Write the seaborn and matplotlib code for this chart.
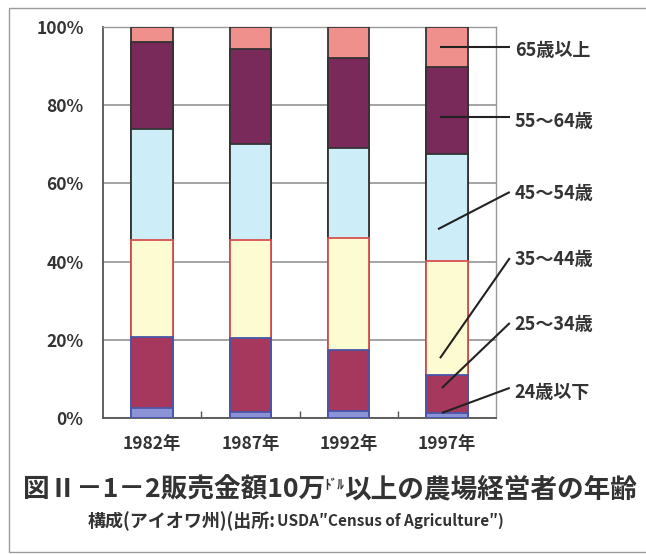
import numpy as np
import pandas as pd
import matplotlib
matplotlib.use("Agg")
import matplotlib.pyplot as plt
from matplotlib.patches import Rectangle
from matplotlib import font_manager
import seaborn as sns

# Iowa farm operators with sales of $100k+, share by age group (%)
years = ["1982年", "1987年", "1992年", "1997年"]
age_groups = ["24歳以下", "25～34歳", "35～44歳", "45～54歳", "55～64歳", "65歳以上"]
share_24_under = [2.5, 1.6, 1.8, 1.4]
share_25_34 = [18.3, 18.8, 15.6, 9.6]
share_35_44 = [24.7, 25.1, 28.7, 29.1]
share_45_54 = [28.5, 24.5, 23.0, 27.3]
share_55_64 = [22.2, 24.4, 22.9, 22.3]
share_65_over = [3.8, 5.6, 8.0, 10.3]
y_ticks = [0, 20, 40, 60, 80, 100]
y_tick_labels = ["0%", "20%", "40%", "60%", "80%", "100%"]

fill_colors = ["#8c92d6", "#a5385c", "#fdfbd2", "#cdedf9", "#79295a", "#f0908c"]
edge_colors = ["#4a55a8", "#4a55a8", "#d85050", "#333333", "#333333", "#333333"]

sns.set_theme(style="white")
plt.rcParams["font.family"] = ["Noto Sans CJK JP", "DejaVu Sans"]
TXT = "#333333"

shares = np.array([share_24_under, share_25_34, share_35_44,
                   share_45_54, share_55_64, share_65_over])
cum = np.cumsum(shares, axis=0)

fig = plt.figure(figsize=(6.46, 5.54), dpi=100)
ax = fig.add_axes([103 / 646, 1 - 418 / 554, 393 / 646, 391 / 554])

# stacked bars: draw cumulative totals from the top group down
for k in range(len(age_groups) - 1, -1, -1):
    df = pd.DataFrame({"year": years, "cum": cum[k]})
    sns.barplot(data=df, x="year", y="cum", color=fill_colors[k],
                saturation=1, width=0.42, edgecolor=edge_colors[k],
                linewidth=1.3, errorbar=None, ax=ax, zorder=3)

ax.set_xlim(-0.5, 3.5)
ax.set_ylim(0, 100)
ax.set_yticks(y_ticks)
ax.set_yticklabels(y_tick_labels)
ax.set_xlabel("")
ax.set_ylabel("")
ax.grid(axis="y", color="#8a8a8a", linewidth=1.1, zorder=0)
ax.set_axisbelow(True)
for side in ["top", "right"]:
    ax.spines[side].set_visible(True)
    ax.spines[side].set_color("#9a9a9a")
    ax.spines[side].set_linewidth(1.0)
for side in ["left", "bottom"]:
    ax.spines[side].set_color("#555555")
    ax.spines[side].set_linewidth(1.3)
ax.tick_params(axis="y", length=0, pad=14, labelsize=12.5, labelcolor=TXT)
ax.tick_params(axis="x", length=0, pad=12, labelsize=12.5, labelcolor=TXT)
for lab in ax.get_xticklabels() + ax.get_yticklabels():
    lab.set_fontweight("bold")
ax.set_xticks([0.5, 1.5, 2.5], minor=True)
ax.tick_params(axis="x", which="minor", direction="in", length=5,
               width=1.0, color="#555555", bottom=True)

# leader lines and labels for the 1997 bar
anchor_pts = [(2.95, 1.3), (2.95, 7.7), (2.93, 15.3), (2.91, 48.3), (2.93, 77.0), (2.93, 94.9)]
line_ends = [(3.64, 7.7), (3.64, 24.3), (3.64, 40.9), (3.64, 57.8), (3.64, 77.0), (3.64, 94.9)]
text_y = [6.6, 24.0, 40.5, 57.3, 75.8, 93.9]
for k, name in enumerate(age_groups):
    (x0, y0), (x1, y1) = anchor_pts[k], line_ends[k]
    ax.plot([x0, x1], [y0, y1], color="#222222", linewidth=1.5,
            clip_on=False, zorder=6, solid_capstyle="butt")
    ax.text(3.69, text_y[k], name, ha="left", va="center", fontsize=13,
            fontweight="bold", color=TXT, clip_on=False)

# caption, with the small "ドル" unit
renderer = fig.canvas.get_renderer()
cap_y = 1 - 490 / 554
part1 = "図Ⅱ－1－2販売金額10万"
part2 = "ﾄﾞﾙ"
part3 = "以上の農場経営者の年齢"
fs = 19.2
t1 = fig.text(0, cap_y, part1, fontsize=fs, fontweight="bold", color=TXT,
              va="center", ha="left")
t2 = fig.text(0, cap_y + 0.009, part2, fontsize=fs * 0.5, fontweight="bold",
              color=TXT, va="center", ha="left")
t3 = fig.text(0, cap_y, part3, fontsize=fs, fontweight="bold", color=TXT,
              va="center", ha="left")
w1 = t1.get_window_extent(renderer).width
w2 = t2.get_window_extent(renderer).width
w3 = t3.get_window_extent(renderer).width
total = w1 + w2 + w3
start = 330 - total / 2
t1.set_x(start / 646)
t2.set_x((start + w1) / 646)
t3.set_x((start + w1 + w2) / 646)

# second caption line: Japanese part, then the narrower source title
sub_y = 1 - 521 / 554
sa = fig.text(88 / 646, sub_y, "構成(アイオワ州)(出所:", fontsize=13,
              fontweight="bold", color=TXT, ha="left", va="center")
wa = sa.get_window_extent(renderer).width
installed = {f.name for f in font_manager.fontManager.ttflist}
narrow = [n for n in ["Liberation Sans Narrow", "DejaVu Sans Condensed"] if n in installed]
sb = fig.text((88 + wa + 1) / 646, sub_y, "USDA″Census of Agriculture″)",
              fontsize=13, fontweight="bold", color=TXT, ha="left",
              va="center", family=narrow + ["Noto Sans CJK JP", "DejaVu Sans"])
wb = sb.get_window_extent(renderer).width
target_b = 470 - (88 + wa + 1)
if wb > target_b:
    sb.set_fontsize(13 * max(0.85, target_b / wb))

# outer frame
fig.patches.append(Rectangle((9 / 646, 2 / 554), 1.2, 544 / 554,
                             transform=fig.transFigure, fill=False,
                             edgecolor="#9a9a9a", linewidth=1.0))

fig.savefig("out.png", dpi=100)
